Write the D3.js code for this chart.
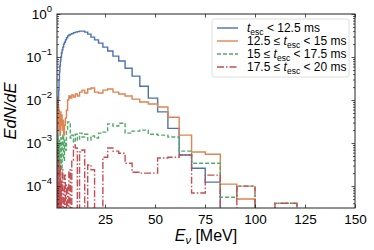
<!DOCTYPE html>
<html><head><meta charset="utf-8">
<script src="https://cdn.jsdelivr.net/npm/d3@7"></script>
<style>
body { margin: 0; background: #fff; }
text { font-family: "Liberation Sans", Arial, sans-serif; fill: #000; }
</style></head>
<body>
<svg id="chart" width="374" height="250"></svg>
<script>
// log-spaced bin edges (MeV), ratio 1.1
const binEdges = [1.03, 1.13, 1.25, 1.37, 1.51, 1.66, 1.83, 2.01, 2.21, 2.43, 2.67, 2.94, 3.24, 3.56, 3.91,
  4.31, 4.74, 5.21, 5.73, 6.30, 6.93, 7.63, 8.39, 9.23, 10.15, 11.17, 12.28, 13.51, 14.86, 16.35, 17.99,
  19.78, 21.76, 23.94, 26.33, 28.97, 31.86, 35.05, 38.55, 42.41, 46.65, 51.32, 56.45, 62.09, 68.30, 75.13,
  82.64, 90.91, 100, 110, 121, 133.1];

const fast = [4.7e-5, 1.8e-4, 6.9e-4, 0.002, 0.0045, 0.010, 0.017, 0.029, 0.045, 0.062, 0.081, 0.10, 0.124,
  0.146, 0.17, 0.20, 0.22, 0.25, 0.28, 0.31, 0.325, 0.34, 0.35, 0.37, 0.38, 0.39, 0.40, 0.40, 0.38, 0.34,
  0.29, 0.25, 0.21, 0.17, 0.138, 0.105, 0.081, 0.055, 0.036, 0.021, 0.0111, 0.0053, 0.0022, 0.00053,
  0.00026, 0.000124, 0, 0, 0, 0, 0];

const mid1 = [0.0034, 0.0117, 0.0058, 0.010, 0.0026, 0.0077, 0.0020, 0.0058, 0.0034, 0.00153, 0.0053, 0.0026,
  0.0045, 0.0020, 0.0034, 0.00153, 0.0026, 0.0038, 0.0058, 0.010, 0.0124, 0.0111, 0.0131, 0.0117, 0.0138,
  0.0124, 0.0153, 0.017, 0.0146, 0.018, 0.019, 0.0153, 0.0146, 0.017, 0.018, 0.0153, 0.0138, 0.0124,
  0.0105, 0.0090, 0.0081, 0.0069, 0.0040, 0.00153, 0.00062, 0.00055, 0.000111, 0.000050, 0, 0, 0];

const mid2 = [4.0e-4, 0.00117, 0, 6.9e-4, 0.00153, 0, 9.0e-4, 3.1e-4, 0.00117, 0, 5.3e-4, 0.00131, 2.4e-4,
  9.0e-4, 0.00153, 4.0e-4, 0.00117, 6.9e-4, 0.0020, 0.0031, 0.0028, 0.00131, 0.00153, 0.00105, 0.0016,
  0.00117, 0.0017, 0.00138, 0.0016, 0.00117, 0.00146, 0.00131, 0.0017, 0.0018, 0.0028, 0.0025, 0.0029,
  0.0017, 0.0019, 0.0020, 0.0016, 0.00153, 0.00138, 6.5e-4, 3.4e-4, 3.4e-4, 5.5e-5, 1.0e-4, 0, 4.0e-5, 0];

const slow = [2.4e-4, 0, 6.9e-4, 0, 1.8e-4, 4.0e-4, 0, 1.05e-4, 0, 3.1e-4, 0, 1.38e-4, 0, 2.4e-4, 8.1e-5,
  0, 1.8e-4, 0, 1.05e-4, 0, 2.4e-4, 0, 4.0e-4, 9.0e-4, 7.7e-4, 0, 6.2e-4, 6.9e-4, 0, 3.1e-4, 2.4e-4, 0, 0,
  4.7e-4, 7.7e-4, 6.5e-4, 5.8e-4, 3.4e-4, 2.1e-4, 2.0e-4, 2.0e-4, 4.5e-4, 4.7e-4, 5.3e-4, 6.9e-5, 1.8e-4,
  0, 1.0e-4, 0, 4.0e-5, 0];

const xTicks = [25, 50, 75, 100, 125, 150];
const yTicks = [1e-4, 1e-3, 1e-2, 1e-1, 1];

const series = [
  { vals: fast, color: "#4c72b0", dash: null, pre: "", post: " < 12.5 ms" },
  { vals: mid1, color: "#dd8452", dash: null, pre: "12.5 ≤ ", post: " < 15 ms" },
  { vals: mid2, color: "#55a868", dash: "4,2", pre: "15 ≤ ", post: " < 17.5 ms" },
  { vals: slow, color: "#c44e52", dash: "7,2,1.5,2", pre: "17.5 ≤ ", post: " < 20 ms" }
];

const margin = { top: 14, left: 57, right: 19, bottom: 42 },
  width = 374 - margin.left - margin.right,
  height = 250 - margin.top - margin.bottom;

const svg = d3.select("#chart");
const g = svg.append("g").attr("transform", `translate(${margin.left},${margin.top})`);

const x = d3.scaleLinear().domain([1, 150]).range([0, width]);
const y = d3.scaleLog().domain([3.1e-5, 1]).range([height, 0]);

g.append("clipPath").attr("id", "clip")
  .append("rect").attr("width", width).attr("height", height);

function stepPath(vals) {
  const bottom = height + 5;
  const yy = v => v > 0 ? y(v) : bottom;
  const pts = [[x(binEdges[0]), bottom]];
  vals.forEach((v, i) => {
    pts.push([x(binEdges[i]), yy(v)]);
    pts.push([x(binEdges[i + 1]), yy(v)]);
  });
  pts.push([x(binEdges[binEdges.length - 1]), bottom]);
  return d3.line()(pts);
}

g.append("g").attr("clip-path", "url(#clip)")
  .selectAll("path")
  .data(series)
  .join("path")
  .attr("d", d => stepPath(d.vals))
  .attr("fill", "none")
  .attr("stroke", d => d.color)
  .attr("stroke-width", 1.4)
  .attr("stroke-dasharray", d => d.dash);

// minor ticks for log axis
const minor = [];
for (let e = -5; e < 0; e++) for (let m = 2; m <= 9; m++) {
  const v = m * Math.pow(10, e);
  if (v >= y.domain()[0] && v <= 1) minor.push(v);
}

// axes, ticks pointing inward
const xb = g.append("g").attr("transform", `translate(0,${height})`)
  .call(d3.axisBottom(x).tickValues(xTicks).tickSize(-3.5).tickPadding(6));
g.append("g")
  .call(d3.axisTop(x).tickValues(xTicks).tickSize(-3.5).tickFormat(""));
g.append("g")
  .call(d3.axisLeft(y).tickValues(yTicks).tickSize(-3.5).tickFormat(""));
g.append("g").attr("transform", `translate(${width},0)`)
  .call(d3.axisRight(y).tickValues(yTicks).tickSize(-3.5).tickFormat(""));
g.append("g").call(d3.axisLeft(y).tickValues(minor).tickSize(-2).tickFormat(""));
g.append("g").attr("transform", `translate(${width},0)`)
  .call(d3.axisRight(y).tickValues(minor).tickSize(-2).tickFormat(""));

g.selectAll(".domain").remove();
g.selectAll(".tick line").attr("stroke", "#222").attr("stroke-width", 0.8);
xb.selectAll("text").attr("font-size", 13.5).attr("font-family", "Liberation Sans, Arial, sans-serif");

g.append("rect").attr("width", width).attr("height", height)
  .attr("fill", "none").attr("stroke", "#222").attr("stroke-width", 1);

// y tick labels 10^k
yTicks.forEach(v => {
  const k = Math.round(Math.log10(v));
  const t = g.append("text").attr("x", -5).attr("y", y(v) + 5)
    .attr("text-anchor", "end").attr("font-size", 13.5).text("10");
  t.append("tspan").attr("dy", -7.5).attr("font-size", 9.5).text(k < 0 ? "−" + (-k) : k);
});

// axis labels
const xl = svg.append("text").attr("x", 206).attr("y", 241)
  .attr("text-anchor", "middle").attr("font-size", 16);
xl.append("tspan").attr("font-style", "italic").text("E");
xl.append("tspan").attr("font-style", "italic").attr("font-size", 11).attr("dy", 3).text("ν");
xl.append("tspan").attr("dy", -3).text(" [MeV]");

svg.append("text")
  .attr("transform", `translate(16,${margin.top + height / 2}) rotate(-90)`)
  .attr("text-anchor", "middle").attr("font-size", 16.5).attr("font-style", "italic")
  .text("EdN/dE");

// legend
const lg = svg.append("g").attr("transform", "translate(212,19)");
lg.append("rect").attr("width", 137).attr("height", 58).attr("rx", 2)
  .attr("fill", "#fff").attr("fill-opacity", 0.8).attr("stroke", "#d5d5d5").attr("stroke-width", 0.8);
series.forEach((s, i) => {
  const yy = 9 + i * 13;
  lg.append("line").attr("x1", 5).attr("x2", 26).attr("y1", yy).attr("y2", yy)
    .attr("stroke", s.color).attr("stroke-width", 1.4).attr("stroke-dasharray", s.dash);
  const t = lg.append("text").attr("x", 35).attr("y", yy + 4).attr("font-size", 12);
  t.append("tspan").text(s.pre);
  t.append("tspan").attr("font-style", "italic").text("t");
  t.append("tspan").attr("font-size", 8.5).attr("dy", 2.5).text("esc");
  t.append("tspan").attr("dy", -2.5).text(s.post);
});
</script>
</body></html>
